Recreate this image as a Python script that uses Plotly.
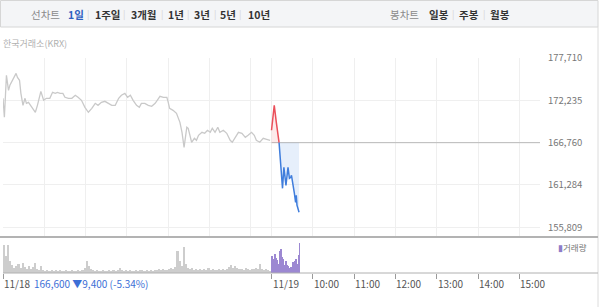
import plotly.graph_objects as go

# ---------------- data ----------------
# Day 1 (11/18) price line, intraday times and prices
day1_times = ["09:00","09:02","09:05","09:08","09:10","09:14","09:17","09:19","09:21","09:24","09:26","09:29","09:32","09:34","09:37","09:40","09:44","09:47","09:50","09:53","09:55","09:59",
              "10:03","10:08","10:12","10:16","10:19","10:23","10:27","10:30","10:35","10:40","10:45","10:49","10:54","10:59",
              "11:04","11:09","11:14","11:18","11:23","11:28","11:33","11:38","11:43","11:48","11:52","11:57",
              "12:01","12:05","12:09","12:14","12:18","12:21","12:26","12:31","12:36","12:41","12:46","12:48","12:53","12:58",
              "13:00","13:02","13:07","13:12","13:17","13:20","13:23","13:27","13:29","13:32","13:34","13:38","13:41","13:44","13:49","13:53","13:57",
              "14:01","14:04","14:08","14:12","14:15","14:20","14:25","14:30","14:33","14:37","14:42","14:47","14:52","14:56",
              "15:01","15:05","15:08","15:13","15:18","15:23","15:28"]
day1_prices = [172500,170040,175470,173530,174180,174830,175210,175730,175210,174830,173140,171590,172500,171850,171980,171590,171200,170690,171590,172500,173400,172240,
               172500,172500,173270,173140,173270,173140,173140,172630,172500,172500,172890,172630,172240,171330,
               170690,171200,171850,171590,171980,172110,171850,171590,171590,172500,172890,173140,
               172630,172890,172240,171590,171330,171850,171850,171590,171460,171850,172500,172760,172630,172630,
               171980,171200,170940,170560,169390,168100,166160,168750,168620,167450,166810,167320,167060,167710,168100,167970,168360,
               168100,168620,168100,168750,168100,168360,167970,167060,166810,167450,168100,167970,167450,167710,
               168100,167710,167060,166810,167320,167190,167060]

# Day 2 (11/19) price line: rising (red) part and falling (blue) part
day2_up_times = ["09:00","09:04","09:07","09:09","09:10","09:11"]
day2_up_prices = [168360,171590,169390,168100,167060,166760]
day2_down_times = ["09:11","09:13","09:15","09:16","09:18","09:20","09:21","09:23","09:24","09:26","09:28","09:29","09:32","09:33","09:35","09:36","09:37","09:40"]
day2_down_prices = [166760,164220,162150,160850,163570,162280,161240,162800,163570,162150,162280,162540,161240,160340,159040,159950,158660,157750]
base_price = 166760

# Volume: day 1 in 3-minute buckets from 09:00, day 2 in 1-minute buckets from 09:00
day1_volume = [28,17,28,12,8,5,7,9,5,10,
               6,4,7,4,6,10,4,3,7,3,
               2,3,2,3,2,3,2,3,2,2,
               3,2,2,3,2,2,3,2,3,5,
               12,7,4,3,2,3,2,2,3,2,
               2,3,2,3,2,3,5,3,2,3,
               2,3,2,2,3,2,3,3,2,3,
               2,3,2,3,3,4,3,4,3,3,
               4,5,4,6,22,12,7,26,9,5,
               4,5,3,4,3,4,3,4,3,5,
               3,4,3,3,4,3,4,3,4,6,
               8,5,7,5,4,4,3,5,4,3,
               4,4,5,4,9,4,3,4,3,2]
day2_volume = [17,15,12,14,16,19,15,13,10,9,8,12,22,24,20,16,14,10,8,7,10,12,8,6,7,5,4,5,6,5,8,11,10,12,12,14,11,8,9,18,30]

y_ticks = [155809, 161284, 166760, 172235, 177710]
x_tick_labels = ["11/18", "11/19", "10:00", "11:00", "12:00", "13:00", "14:00", "15:00"]
x_tick_times = [(0, "09:00"), (1, "09:00"), (1, "10:00"), (1, "11:00"), (1, "12:00"), (1, "13:00"), (1, "14:00"), (1, "15:00")]
grid_times = [(0, "10:00"), (0, "11:00"), (0, "12:00"), (0, "13:00"), (0, "14:00"), (0, "15:00"),
              (1, "09:00"), (1, "10:00"), (1, "11:00"), (1, "12:00"), (1, "13:00"), (1, "14:00"), (1, "15:00")]
period_tabs = ["1일", "1주일", "3개월", "1년", "3년", "5년", "10년"]
candle_tabs = ["일봉", "주봉", "월봉"]
summary_text = "166,600 ▼9,400 (-5.34%)"
source_text = "한국거래소(KRX)"

# ---------------- helpers ----------------
SESSION = 6.5  # hours per trading session

def pos(day, t):
    h, m = map(int, t.split(":"))
    return day * SESSION + (h - 9) + m / 60.0

# layout pixel helpers (plot area: x 3..540, y 58..273)
L, R, T, B, W, H = 3, 60, 58, 34, 600, 307
PW, PH = W - L - R, H - T - B
def PX(px): return (px - L) / PW
def PY(py): return (H - B - py) / PH

KR = "Noto Sans CJK KR"

fig = go.Figure()

# Volume bars
fig.add_trace(go.Bar(x=[pos(0, "09:00") + (i * 3 + 1.5) / 60 for i in range(len(day1_volume))], y=day1_volume,
                     width=3 / 60, marker=dict(color="#cdcdcd", line=dict(width=0)), xaxis="x2", yaxis="y2",
                     hoverinfo="skip", showlegend=False))
fig.add_trace(go.Bar(x=[pos(1, "09:00") + (i + 0.5) / 60 for i in range(len(day2_volume))], y=day2_volume,
                     width=1 / 60, marker=dict(color="#9c88d2", line=dict(width=0)), xaxis="x2", yaxis="y2",
                     hoverinfo="skip", showlegend=False))

# Day 1 gray line
fig.add_trace(go.Scatter(x=[pos(0, t) for t in day1_times], y=day1_prices, mode="lines",
                         line=dict(color="#c9c9c9", width=1.3), showlegend=False, hoverinfo="skip"))

# Reference (base) line for day 2
fig.add_trace(go.Scatter(x=[pos(1, "09:00"), pos(1, "15:30")], y=[base_price, base_price], mode="lines",
                         line=dict(color="#b9b9b9", width=1), showlegend=False, hoverinfo="skip"))

# red part with fill to base
fig.add_trace(go.Scatter(x=[pos(1, day2_up_times[0]), pos(1, day2_up_times[-1])], y=[base_price, base_price],
                         mode="lines", line=dict(width=0, color="rgba(0,0,0,0)"), showlegend=False, hoverinfo="skip"))
fig.add_trace(go.Scatter(x=[pos(1, t) for t in day2_up_times], y=day2_up_prices, mode="lines",
                         line=dict(color="#ea4f5a", width=1.5), fill="tonexty", fillcolor="rgba(240,90,100,0.13)",
                         showlegend=False, hoverinfo="skip"))
# blue part with fill to base
fig.add_trace(go.Scatter(x=[pos(1, day2_down_times[0]), pos(1, day2_down_times[-1])], y=[base_price, base_price],
                         mode="lines", line=dict(width=0, color="rgba(0,0,0,0)"), showlegend=False, hoverinfo="skip"))
fig.add_trace(go.Scatter(x=[pos(1, t) for t in day2_down_times], y=day2_down_prices, mode="lines",
                         line=dict(color="#3f7ddc", width=1.5), fill="tonexty", fillcolor="rgba(90,145,230,0.15)",
                         showlegend=False, hoverinfo="skip"))

vol_top = (273 - 237) / PH

fig.update_layout(
    width=W, height=H, margin=dict(l=L, r=R, t=T, b=B),
    paper_bgcolor="white", plot_bgcolor="white",
    font=dict(family=KR, size=10, color="#555"),
    bargap=0,
    xaxis=dict(domain=[0, 1], range=[0, 2 * SESSION], anchor="y",
               tickvals=[pos(d, t) for d, t in grid_times], showticklabels=False, ticks="",
               showgrid=True, gridcolor="#efefef", gridwidth=1, zeroline=False, showline=False, fixedrange=True),
    yaxis=dict(domain=[vol_top, 1], range=[154550, 177716], side="right", anchor="x",
               tickvals=y_ticks, ticktext=[f"{v:,}" for v in y_ticks], ticks="", ticklabelstandoff=7,
               tickfont=dict(size=9.5, color="#777", family=KR),
               showgrid=True, gridcolor="#efefef", gridwidth=1, zeroline=False, showline=False),
    xaxis2=dict(domain=[0, 1], range=[0, 2 * SESSION], anchor="y2", matches="x",
                tickvals=[pos(d, t) for d, t in x_tick_times], showticklabels=False,
                ticks="outside", ticklen=5, tickcolor="#9a9a9a", tickwidth=1,
                showgrid=False, zeroline=False, showline=False),
    yaxis2=dict(domain=[0, vol_top], range=[0, 36], anchor="x2", visible=False, showgrid=False),
    showlegend=False,
)

shapes = []
# top tab bar
shapes.append(dict(type="rect", xref="paper", yref="paper", x0=PX(0.5), x1=PX(598), y0=PY(27), y1=PY(0.5),
                   fillcolor="#f4f5f7", line=dict(color="#d6d6d6", width=1), layer="below"))
# right border
shapes.append(dict(type="line", xref="paper", yref="paper", x0=PX(598), x1=PX(598), y0=PY(307), y1=PY(27),
                   line=dict(color="#dcdcdc", width=1)))
# separator between price and volume panes
shapes.append(dict(type="line", xref="paper", yref="paper", x0=PX(0), x1=PX(598), y0=PY(237), y1=PY(237),
                   line=dict(color="#b3b3b3", width=2)))
# volume baseline axis line
shapes.append(dict(type="line", xref="paper", yref="paper", x0=PX(3), x1=PX(598), y0=PY(273), y1=PY(273),
                   line=dict(color="#b0b0b0", width=1)))
fig.update_layout(shapes=shapes)

ann = []
def text(px, py, s, size=10, color="#555", anchor="left", bold=False):
    ann.append(dict(xref="paper", yref="paper", x=PX(px), y=PY(py), text=(f"<b>{s}</b>" if bold else s),
                    showarrow=False, xanchor=anchor, yanchor="middle",
                    font=dict(size=size, color=color, family=KR)))

# tab bar texts
text(45, 14.5, "선차트", size=10.5, color="#8a8a8a", anchor="center")
tab_centers = [75.5, 107.5, 144, 175.5, 202, 228.5, 258.5]
sep_x = [88, 124, 162, 188, 215, 240]
for i, (lbl, cx) in enumerate(zip(period_tabs, tab_centers)):
    text(cx, 14.5, lbl, size=10.5, color=("#2f5fc0" if i == 0 else "#333"), anchor="center", bold=True)
for sx in sep_x:
    text(sx, 14.5, "|", size=9, color="#d4d4d4", anchor="center")
text(404.5, 14.5, "봉차트", size=10.5, color="#8a8a8a", anchor="center")
for lbl, cx in zip(candle_tabs, [438.5, 468.5, 500]):
    text(cx, 14.5, lbl, size=10.5, color="#333", anchor="center", bold=True)
for sx in [453, 484]:
    text(sx, 14.5, "|", size=9, color="#d4d4d4", anchor="center")

# source
text(1, 43, source_text, size=9, color="#b0b0b0")
# volume legend
text(556, 247, "<span style='color:#8e7cc8'>▮</span>거래량", size=8.5, color="#777")

# x labels (left aligned at ticks)
for (d, t), lbl in zip(x_tick_times, x_tick_labels):
    ann.append(dict(xref="x2", yref="paper", x=pos(d, t), y=PY(283.5), text=lbl, showarrow=False,
                    xanchor="left", yanchor="middle", xshift=-1, font=dict(size=10, color="#555", family=KR)))
# summary
ann.append(dict(xref="x2", yref="paper", x=pos(0, "09:42"), y=PY(283.5), text=summary_text, showarrow=False,
                xanchor="left", yanchor="middle", font=dict(size=10, color="#3d6fd6", family=KR)))

fig.update_layout(annotations=ann)

fig.write_html("out.html")
